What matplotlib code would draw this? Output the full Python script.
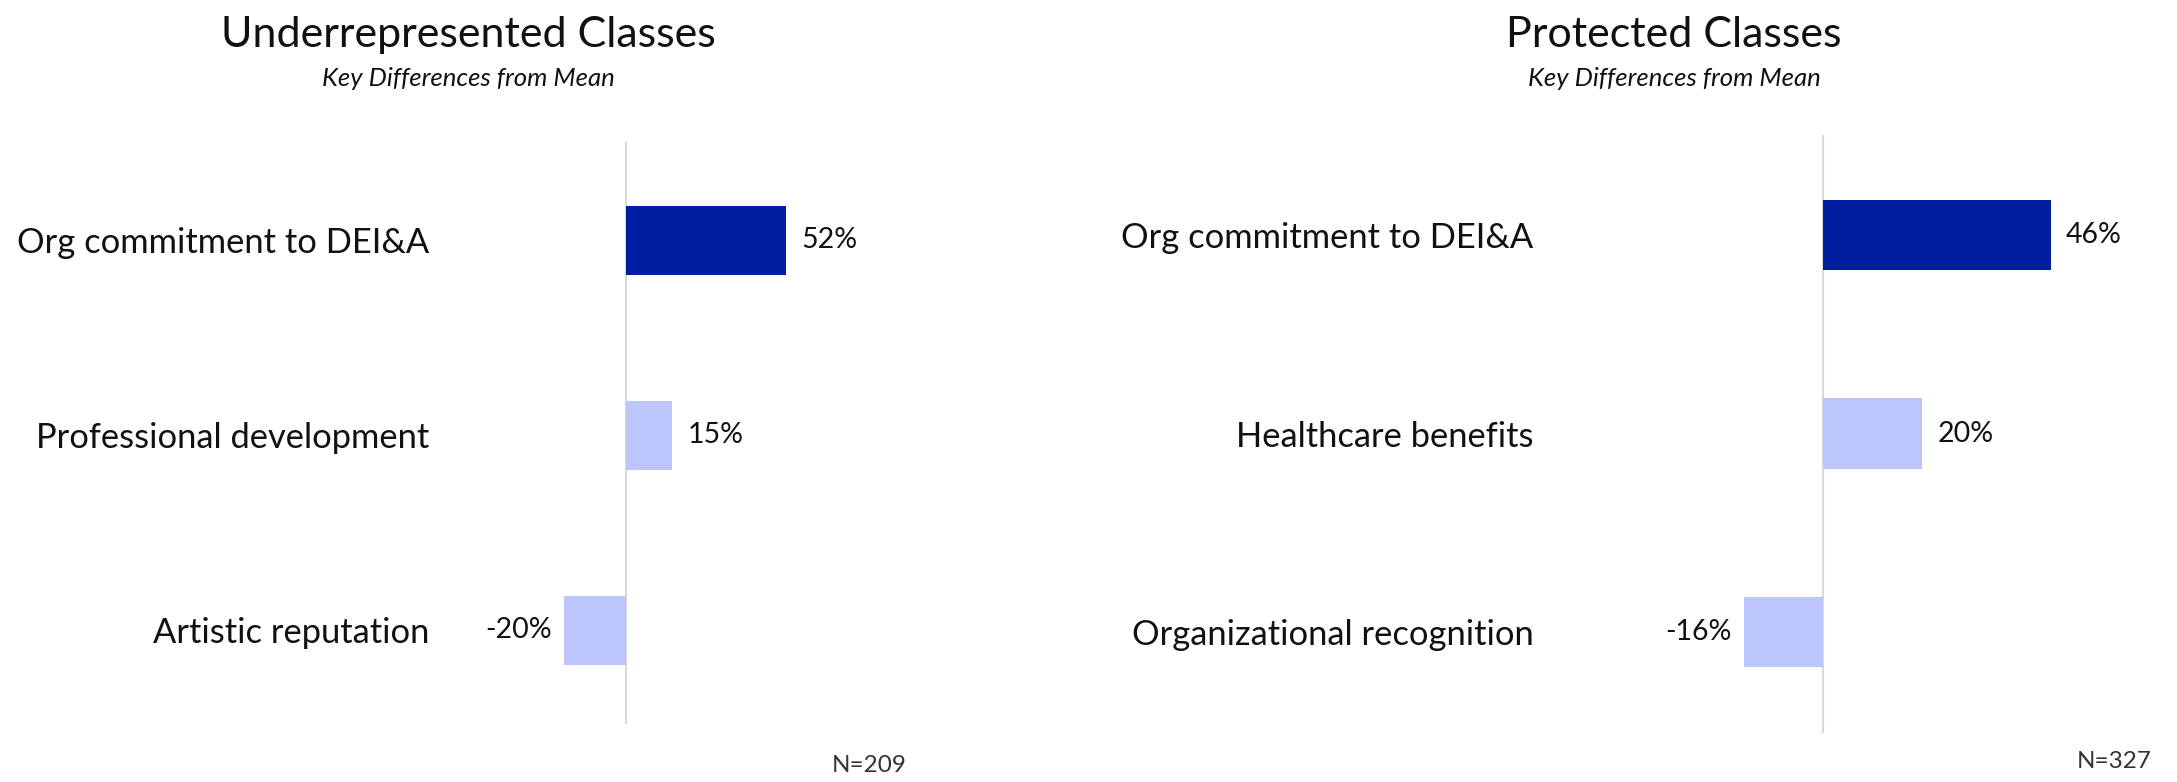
import matplotlib
matplotlib.use("Agg")
import matplotlib.pyplot as plt

plt.rcParams['font.family'] = ['Lato', 'DejaVu Sans']

# Underrepresented classes
left_title = "Underrepresented Classes"
left_categories = ["Org commitment to DEI&A", "Professional development", "Artistic reputation"]
left_values = [52, 15, -20]
left_n = "N=209"

# Protected classes
right_title = "Protected Classes"
right_categories = ["Org commitment to DEI&A", "Healthcare benefits", "Organizational recognition"]
right_values = [46, 20, -16]
right_n = "N=327"

subtitle = "Key Differences from Mean"

DARK = '#001EA0'
LIGHT = '#BCC6FC'
ZERO_LINE = '#D9D9D9'

W, H = 2177, 782
fig = plt.figure(figsize=(W / 100, H / 100), dpi=100, facecolor='white')


def px_box(x0, x1, y_top, y_bot):
    return [x0 / W, 1 - y_bot / H, (x1 - x0) / W, (y_bot - y_top) / H]


def draw_panel(rect, cats, vals, xlim, ylim, label_pad):
    ax = fig.add_axes(rect)
    pos = list(range(len(cats)))
    colors = [DARK if i == 0 else LIGHT for i in pos]
    ax.barh(pos, vals, height=0.355, color=colors, zorder=2)
    ax.axvline(0, color=ZERO_LINE, lw=1.5, zorder=1)
    ax.set_xlim(*xlim)
    ax.set_ylim(*ylim)
    ax.set_yticks(pos)
    ax.set_yticklabels(cats, fontsize=24.8, color='#111111')
    ax.tick_params(axis='y', length=0, pad=label_pad)
    ax.set_xticks([])
    for s in ax.spines.values():
        s.set_visible(False)
    for p, v in zip(pos, vals):
        if v >= 0:
            ax.annotate(f"{v}%", (v, p), xytext=(11, 0), textcoords='offset points',
                        ha='left', va='center', fontsize=20.5, color='#111111')
        else:
            ax.annotate(f"{v}%", (v, p), xytext=(-9, 0), textcoords='offset points',
                        ha='right', va='center', fontsize=20.5, color='#111111')
    return ax


# left panel: zero line at x=626 px, 3.08 px per percent
draw_panel(px_box(520, 900, 142, 724), left_categories, left_values,
           ((520 - 626) / 3.08, (900 - 626) / 3.08), (2.48, -0.505), 65)

# right panel: zero line at x=1823 px, 4.95 px per percent
draw_panel(px_box(1700, 2100, 135, 733), right_categories, right_values,
           ((1700 - 1823) / 4.95, (2100 - 1823) / 4.95), (2.51, -0.505), 120)

# titles
for cx, title in [(468, left_title), (1674, right_title)]:
    fig.text(cx / W, 1 - 47 / H, title, ha='center', va='baseline',
             fontsize=31, color='#111111')
    fig.text(cx / W, 1 - 86 / H, subtitle, ha='center', va='baseline',
             fontsize=18.5, style='italic', color='#111111')

fig.text(869 / W, 1 - 766 / H, left_n, ha='center', va='center', fontsize=17.5, color='#333333')
fig.text(2114 / W, 1 - 761 / H, right_n, ha='center', va='center', fontsize=17.5, color='#333333')

fig.savefig('out.png', dpi=100, facecolor='white')
